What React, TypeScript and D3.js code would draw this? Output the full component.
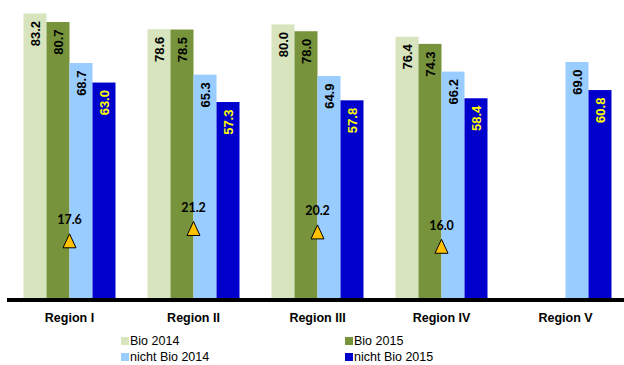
import React from "react";
import * as d3 from "d3";

const regions = ["Region I", "Region II", "Region III", "Region IV", "Region V"];
const seriesNames = ["Bio 2014", "Bio 2015", "nicht Bio 2014", "nicht Bio 2015"];
const bio2014 = [83.2, 78.6, 80.0, 76.4, null];
const bio2015 = [80.7, 78.5, 78.0, 74.3, null];
const nichtBio2014 = [68.7, 65.3, 64.9, 66.2, 69.0];
const nichtBio2015 = [63.0, 57.3, 57.8, 58.4, 60.8];
const markerValues = [17.6, 21.2, 20.2, 16.0, null];

const colors = ["#D7E4BD", "#77933C", "#99CCFF", "#0000CC"];
const labelColors = ["#000", "#000", "#000", "#FFFF00"];

export default function App() {
  const W = 624, H = 365;
  const baseY = 298;
  const x0 = d3.scaleBand<string>().domain(regions).range([7.5, 627.5]).padding(0);
  const x1 = d3.scaleBand<string>().domain(seriesNames).range([16, 108]).padding(0);
  const y = d3.scaleLinear().domain([0, 85]).range([baseY, baseY - 85 * 3.42]);
  const seriesVals = [bio2014, bio2015, nichtBio2014, nichtBio2015];
  const fmt = d3.format(".1f");
  const triPts: [number, number][] = [[0, -7], [6.5, 7], [-6.5, 7]];
  const triPath = d3.line()(triPts)! + "Z";

  const legendPos = [
    { x: 121, y: 341 },
    { x: 345, y: 341 },
    { x: 121, y: 357 },
    { x: 345, y: 357 },
  ];

  return (
    <svg width={W} height={H} style={{ position: "absolute", left: 0, top: 0, background: "#fff" }}>
      {regions.map((r, i) => (
        <g key={r} transform={`translate(${x0(r)},0)`}>
          {seriesNames.map((s, j) => {
            const v = seriesVals[j][i];
            if (v == null) return null;
            const bx = x1(s)!;
            const bw = x1.bandwidth();
            const top = y(v);
            return (
              <g key={s}>
                <rect x={bx} y={top} width={bw} height={baseY - top} fill={colors[j]} />
                <text
                  transform={`translate(${bx + bw / 2},${top + 7.5}) rotate(-90)`}
                  textAnchor="end"
                  dy="0.36em"
                  fontFamily="'Liberation Sans', Arial, sans-serif"
                  fontWeight="bold"
                  fontSize={13}
                  fill={labelColors[j]}
                >
                  {fmt(v)}
                </text>
              </g>
            );
          })}
        </g>
      ))}
      {regions.map((r, i) => {
        const v = markerValues[i];
        if (v == null) return null;
        const cx = x0(r)! + x0.bandwidth() / 2;
        const cy = y(v);
        return (
          <g key={"m" + r}>
            <path d={triPath} transform={`translate(${cx},${cy + 3})`} fill="#FFC000" stroke="#000" strokeWidth={1} strokeLinejoin="miter" />
            <text
              x={cx}
              y={cy - 13.5}
              textAnchor="middle"
              fontFamily="Lato, sans-serif"
              fontWeight="bold"
              fontSize={12.5}
              fill="#000"
            >
              {fmt(v)}
            </text>
          </g>
        );
      })}
      <line x1={7} x2={624} y1={300} y2={300} stroke="#000" strokeWidth={4} />
      {regions.map((r) => (
        <text
          key={"l" + r}
          x={x0(r)! + x0.bandwidth() / 2}
          y={321.5}
          textAnchor="middle"
          fontFamily="'Liberation Sans', Arial, sans-serif"
          fontWeight="bold"
          fontSize={12.5}
          fill="#000"
        >
          {r}
        </text>
      ))}
      {seriesNames.map((s, j) => (
        <g key={"lg" + s} transform={`translate(${legendPos[j].x},${legendPos[j].y})`}>
          <rect x={0} y={-4} width={8} height={8} fill={colors[j]} />
          <text
            x={9}
            y={0}
            dy="0.35em"
            fontFamily="'Liberation Sans', Arial, sans-serif"
            fontSize={12.5}
            fill="#000"
          >
            {s}
          </text>
        </g>
      ))}
    </svg>
  );
}
